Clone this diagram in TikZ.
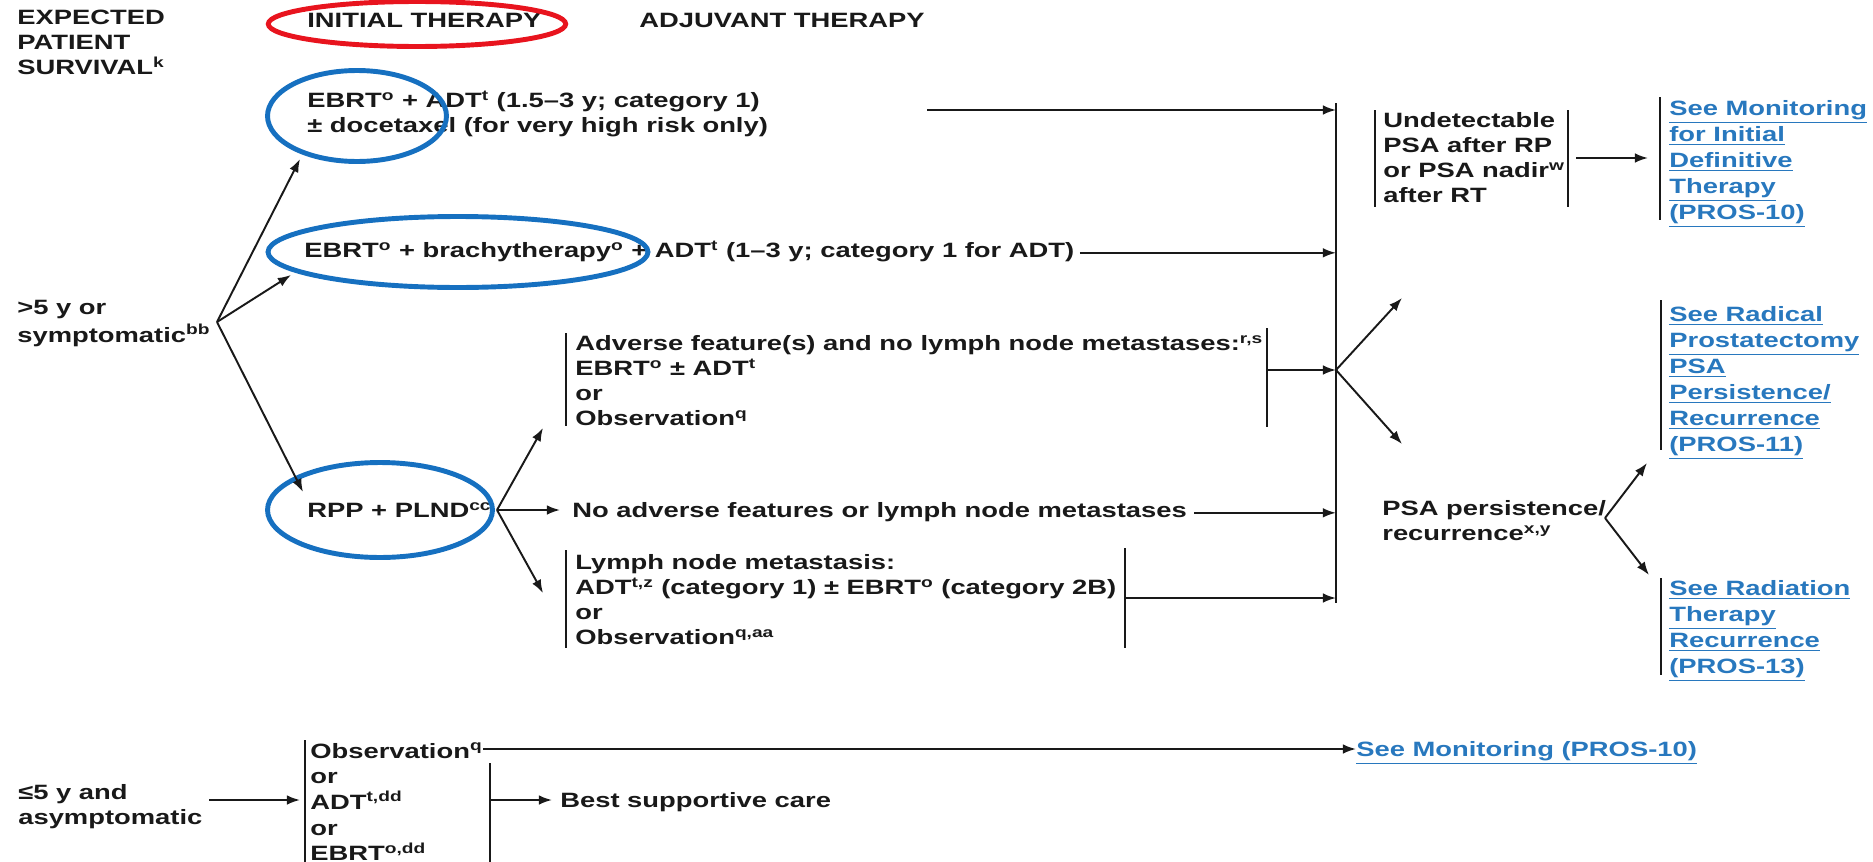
\documentclass[tikz,border=0pt]{standalone}
\usepackage{fontspec}
\setmainfont{Liberation Sans}[FakeStretch=1.32]
\usetikzlibrary{arrows.meta,shapes.geometric}
\definecolor{hlblue}{RGB}{22,112,192}
\definecolor{hlred}{RGB}{232,20,30}
\definecolor{linkblue}{RGB}{40,120,190}
\definecolor{ink}{RGB}{25,25,25}
\begin{document}
\begin{tikzpicture}[x=0.02cm,y=-0.02cm,
  txt/.style={anchor=north west, inner sep=0pt, align=left, text=ink, font=\bfseries\fontsize{11.8}{14.2}\selectfont},
  txtw/.style={txt, font=\bfseries\fontsize{11.8}{14.6}\selectfont},
  lnk/.style={txt, text=linkblue, font=\bfseries\fontsize{11.8}{14.8}\selectfont},
  conn/.style={draw=ink, line width=1.1pt},
  arr/.style={conn, -{Latex[length=7.5pt,width=5.5pt]}},
  bar/.style={draw=ink, line width=1.1pt},
  hl/.style={draw=hlblue, line width=2.8pt, ellipse, inner sep=0pt},
]
\useasboundingbox (0,0) rectangle (1873,862);

% headers
\node[txt] (hdr) at (17,7) {\strut EXPECTED\\PATIENT\\SURVIVAL\textsuperscript{k}};
\node[txt] (init) at (307,10) {\strut INITIAL THERAPY};
\node[txt] (adj) at (639,10) {\strut ADJUVANT THERAPY};
\node[draw=hlred, line width=2.8pt, ellipse, inner sep=0pt, minimum width=5.95cm, minimum height=0.9cm] (redring) at (417,24) {};

% initial therapy options
\node[txt] (t1) at (307,90) {\strut EBRT\textsuperscript{o} + ADT\textsuperscript{t} (1.5–3 y; category 1)\\± docetaxel (for very high risk only)};
\node[hl, minimum width=3.58cm, minimum height=1.82cm] (c1) at (357,116) {};

\node[txt] (t2) at (304,240) {\strut EBRT\textsuperscript{o} + brachytherapy\textsuperscript{o} + ADT\textsuperscript{t} (1–3 y; category 1 for ADT)};
\node[hl, minimum width=7.6cm, minimum height=1.42cm] (c2) at (458,252) {};

\node[txt] (gt5) at (17,297) {\strut >5 y or\\symptomatic\textsuperscript{bb}};

\node[txt] (rpp) at (307,500) {\strut RPP + PLND\textsuperscript{cc}};
\node[hl, minimum width=4.5cm, minimum height=1.9cm] (c3) at (380,510) {};

% fan from survival
\coordinate (f1) at (217,322);
\coordinate (e1) at (300,159);
\coordinate (e2) at (291,275);
\coordinate (e3) at (303,492);
\draw[arr] (f1) -- (e1);
\draw[arr] (f1) -- (e2);
\draw[arr] (f1) -- (e3);

% adjuvant blocks
\node[txt] (adv) at (575,333) {\strut Adverse feature(s) and no lymph node metastases:\textsuperscript{r,s}\\EBRT\textsuperscript{o} ± ADT\textsuperscript{t}\\or\\Observation\textsuperscript{q}};
\draw[bar] (566,333) -- (566,426);
\draw[bar] (1267,328) -- (1267,427);

\node[txt] (noadv) at (572,500) {\strut No adverse features or lymph node metastases};

\node[txt] (lym) at (575,552) {\strut Lymph node metastasis:\\ADT\textsuperscript{t,z} (category 1) ± EBRT\textsuperscript{o} (category 2B)\\or\\Observation\textsuperscript{q,aa}};
\draw[bar] (566,550) -- (566,648);
\draw[bar] (1125,548) -- (1125,648);

% fan from RPP
\coordinate (f2) at (497,510);
\coordinate (g1) at (543,428);
\coordinate (g2) at (560,510);
\coordinate (g3) at (543,593);
\draw[arr] (f2) -- (g1);
\draw[arr] (f2) -- (g2);
\draw[arr] (f2) -- (g3);

% collector line
\coordinate (vt) at (1336,103);
\coordinate (vb) at (1336,603);
\draw[conn] (vt) -- (vb);
\coordinate (s1) at (927,110);
\draw[arr] (s1) -- (s1 -| vt);
\draw[arr] ([xshift=3pt]t2.east) -- (t2.east -| vt);
\coordinate (advr) at (1267,370);
\draw[arr] (advr) -- (advr -| vt);
\draw[arr] ([xshift=4pt]noadv.east) -- (noadv.east -| vt);
\coordinate (lymr) at (1125,598);
\draw[arr] (lymr) -- (lymr -| vt);

% fan from collector
\coordinate (f3) at (1336,370);
\coordinate (h1) at (1402,298);
\coordinate (h2) at (1402,444);
\draw[arr] (f3) -- (h1);
\draw[arr] (f3) -- (h2);

% outcomes
\node[txt] (und) at (1383,110) {\strut Undetectable\\PSA after RP\\or PSA nadir\textsuperscript{w}\\after RT};
\draw[bar] (1375,110) -- (1375,207);
\draw[bar] (1568,110) -- (1568,207);
\coordinate (u1) at (1576,158);
\coordinate (u2) at (1648,158);
\draw[arr] (u1) -- (u2);

\node[lnk] (l1) at (1669,97) {\strut\underline{See Monitoring}\\\underline{for Initial}\\\underline{Definitive}\\\underline{Therapy}\\\underline{(PROS-10)}};
\draw[bar] (1660,97) -- (1660,220);

\node[lnk] (l2) at (1669,303) {\strut\underline{See Radical}\\\underline{Prostatectomy}\\\underline{PSA}\\\underline{Persistence/}\\\underline{Recurrence}\\\underline{(PROS-11)}};
\draw[bar] (1661,300) -- (1661,450);

\node[txt] (psa) at (1382,498) {\strut PSA persistence/\\recurrence\textsuperscript{x,y}};
\coordinate (f4) at (1605,518);
\coordinate (p1) at (1647,463);
\coordinate (p2) at (1649,575);
\draw[arr] (f4) -- (p1);
\draw[arr] (f4) -- (p2);

\node[lnk] (l3) at (1669,577) {\strut\underline{See Radiation}\\\underline{Therapy}\\\underline{Recurrence}\\\underline{(PROS-13)}};
\draw[bar] (1661,578) -- (1661,675);

% bottom section
\node[txtw] (le5) at (18,781) {\strut ≤5 y and\\asymptomatic};
\coordinate (b0) at (209,800);
\coordinate (b1) at (300,800);
\draw[arr] (b0) -- (b1);
\node[txtw] (bot) at (310,740) {\strut Observation\textsuperscript{q}\\or\\ADT\textsuperscript{t,dd}\\or\\EBRT\textsuperscript{o,dd}};
\draw[bar] (305,740) -- (305,862);
\draw[bar] (490,763) -- (490,862);
\coordinate (b2) at (490,800);
\coordinate (b3) at (552,800);
\draw[arr] (b2) -- (b3);
\node[txt] (bsc) at (560,790) {\strut Best supportive care};
\node[lnk] (l4) at (1356,738) {\strut\underline{See Monitoring (PROS-10)}};
\coordinate (o1) at (483,749);
\draw[arr] (o1) -- (l4.west |- o1);
\end{tikzpicture}
\end{document}
